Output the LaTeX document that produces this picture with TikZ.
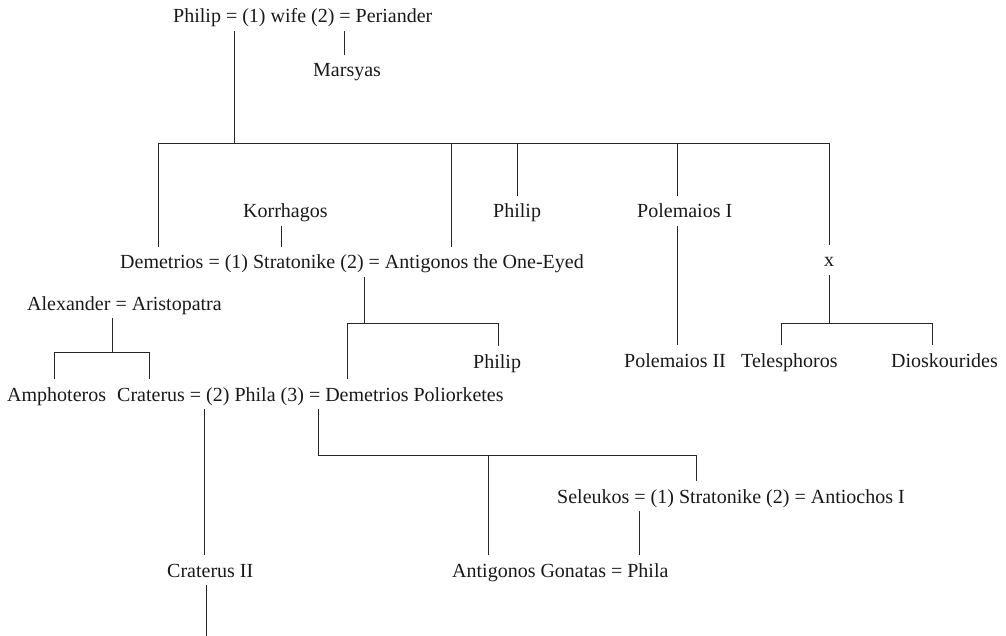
\documentclass[tikz,border=0pt]{standalone}
\usepackage{fontspec}
\setmainfont{Liberation Serif}
\begin{document}
\begin{tikzpicture}[x=1pt,y=-1pt,
  person/.style={inner xsep=0pt, inner ysep=3.5pt, text height=18pt, text depth=4.5pt,
    font=\fontsize{20}{24}\selectfont, text=black!90},
  link/.style={line width=1pt, draw=black!85}]
\useasboundingbox (0,0) rectangle (1006,636);
% people
\node[person, anchor=base west] (top) at (173,23) {Philip = (1) wife (2) = Periander};
\node[person, anchor=base west] (mars) at (313,77) {Marsyas};
\node[person, anchor=base west] (korr) at (243,218) {Korrhagos};
\node[person, anchor=base west] (phil1) at (493,218) {Philip};
\node[person, anchor=base west] (pol1) at (637,218) {Polemaios I};
\node[person, anchor=base west] (dem) at (120,269) {Demetrios = (1) Stratonike (2) = Antigonos the One-Eyed};
\node[person, anchor=base] (xx) at (829,267) {x};
\node[person, anchor=base west] (alex) at (27,310) {Alexander = Aristopatra};
\node[person, anchor=base west] (phil2) at (473,368) {Philip};
\node[person, anchor=base west] (pol2) at (624,367) {Polemaios II};
\node[person, anchor=base west] (tel) at (741,367) {Telesphoros};
\node[person, anchor=base west] (dio) at (891,367) {Dioskourides};
\node[person, anchor=base west] (amph) at (7,401) {Amphoteros};
\node[person, anchor=base west] (crat) at (117,401) {Craterus = (2) Phila (3) = Demetrios Poliorketes};
\node[person, anchor=base west] (sel) at (557,503) {Seleukos = (1) Stratonike (2) = Antiochos I};
\node[person, anchor=base west] (cratII) at (167,577) {Craterus II};
\node[person, anchor=base west] (ag) at (452,577) {Antigonos Gonatas = Phila};
% junctions and columns
\coordinate (j0) at (234,144);
\coordinate (jd) at (158,144);
\coordinate (ja) at (451,144);
\coordinate (jp) at (517,144);
\coordinate (jpol) at (677,144);
\coordinate (jx) at (829,144);
\coordinate (mcol) at (344,0);
\coordinate (kc) at (281,0);
\coordinate (jt) at (829,323);
\coordinate (jtl) at (781,323);
\coordinate (jtr) at (932,323);
\coordinate (js) at (364,323);
\coordinate (jsl) at (347,323);
\coordinate (jsr) at (498,323);
\coordinate (jal) at (112,352);
\coordinate (jl) at (54,352);
\coordinate (jr) at (149,352);
\coordinate (cc) at (204,0);
\coordinate (cc2) at (206,636);
\coordinate (jdp) at (318,455);
\coordinate (jse) at (696,455);
\coordinate (jag) at (488,455);
\coordinate (sl) at (639,0);
% connectors
\draw[link] (top.south -| j0) -- (j0);
\draw[link] (top.south -| mcol) -- (mars.north -| mcol);
\draw[link] (dem.north -| jd) -- (jd) -- (jx) -- (xx.north -| jx);
\draw[link] (ja) -- (dem.north -| ja);
\draw[link] (jp) -- (phil1.north -| jp);
\draw[link] (jpol) -- (pol1.north -| jpol);
\draw[link] (korr.south -| kc) -- (dem.north -| kc);
\draw[link] (pol1.south -| jpol) -- (pol2.north -| jpol);
\draw[link] (xx.south) -- (jt);
\draw[link] (tel.north -| jtl) -- (jtl) -- (jtr) -- (dio.north -| jtr);
\draw[link] (dem.south -| js) -- (js);
\draw[link] (crat.north -| jsl) -- (jsl) -- (jsr) -- (phil2.north -| jsr);
\draw[link] (alex.south -| jal) -- (jal);
\draw[link] (amph.north -| jl) -- (jl) -- (jr) -- (crat.north -| jr);
\draw[link] (crat.south -| cc) -- (cratII.north -| cc);
\draw[link] (cratII.south -| cc2) -- (cc2);
\draw[link] (crat.south -| jdp) -- (jdp) -- (jse) -- (sel.north -| jse);
\draw[link] (jag) -- (ag.north -| jag);
\draw[link] (sel.south -| sl) -- (ag.north -| sl);
\end{tikzpicture}
\end{document}
